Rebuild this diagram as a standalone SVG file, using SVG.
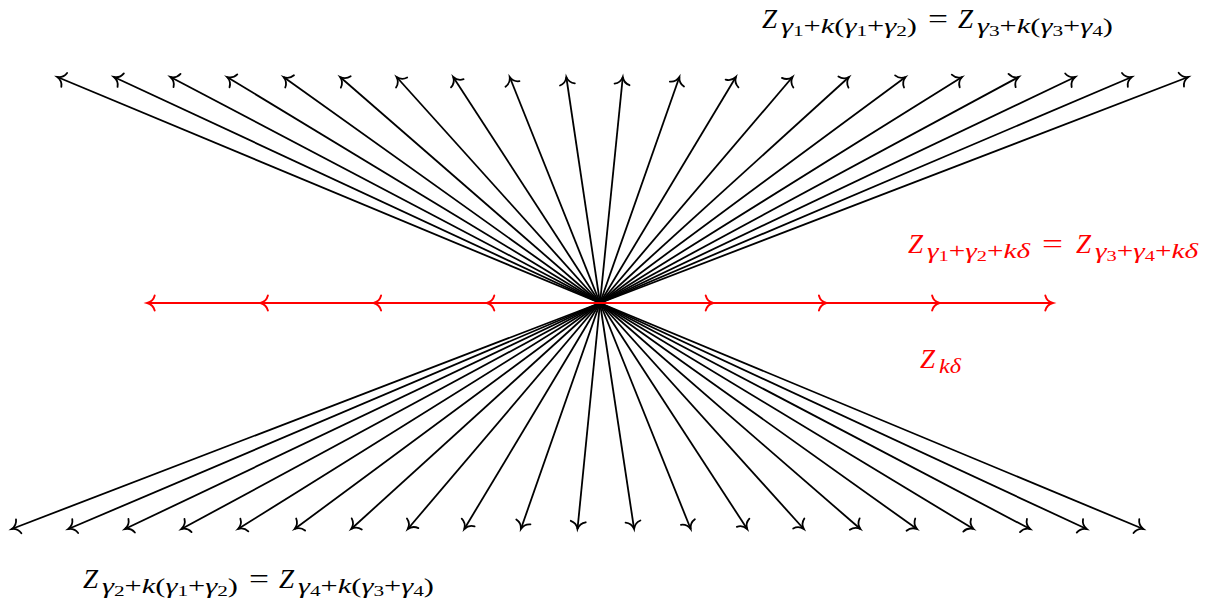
<svg xmlns="http://www.w3.org/2000/svg" width="1211" height="606" viewBox="0 0 1211 606">
<style>
.ray{stroke:#000;stroke-width:1.8;fill:none;marker-end:url(#ahk)}
.red{stroke:#ff0000;stroke-width:1.9;fill:none;marker-end:url(#ahr)}
.lbl{font-family:"Liberation Serif","DejaVu Serif",serif;font-size:27px}
.sub{font-family:"Liberation Serif","DejaVu Serif",serif;font-size:20px}
.i{font-style:italic}
.ss{font-size:14px}
.rd{fill:#ff0000}
</style>
<defs>
<marker id="ahk" markerUnits="userSpaceOnUse" viewBox="-10 -10 20 20" markerWidth="20" markerHeight="20" refX="0" refY="0" orient="auto" overflow="visible">
<path d="M-7.5,-7.5 C-6.5,-3.5 -3,-0.8 0,0 C-3,0.8 -6.5,3.5 -7.5,7.5" fill="none" stroke="#000" stroke-width="1.8" stroke-linecap="round"/>
</marker>
<marker id="ahr" markerUnits="userSpaceOnUse" viewBox="-10 -10 20 20" markerWidth="20" markerHeight="20" refX="0" refY="0" orient="auto" overflow="visible">
<path d="M-7.5,-7.5 C-6.5,-3.5 -3,-0.8 0,0 C-3,0.8 -6.5,3.5 -7.5,7.5" fill="none" stroke="#ff0000" stroke-width="1.9" stroke-linecap="round"/>
</marker>
</defs>
<g id="connectors">
<g id="top-rays">
<line class="ray" x1="600" y1="303" x2="57.3" y2="77"/>
<line class="ray" x1="600" y1="303" x2="113.9" y2="77"/>
<line class="ray" x1="600" y1="303" x2="170.4" y2="77"/>
<line class="ray" x1="600" y1="303" x2="227" y2="77"/>
<line class="ray" x1="600" y1="303" x2="283.5" y2="77"/>
<line class="ray" x1="600" y1="303" x2="340.1" y2="77"/>
<line class="ray" x1="600" y1="303" x2="396.6" y2="77"/>
<line class="ray" x1="600" y1="303" x2="453.2" y2="77"/>
<line class="ray" x1="600" y1="303" x2="509.7" y2="77"/>
<line class="ray" x1="600" y1="303" x2="566.3" y2="77"/>
<line class="ray" x1="600" y1="303" x2="622.8" y2="77"/>
<line class="ray" x1="600" y1="303" x2="679.4" y2="77"/>
<line class="ray" x1="600" y1="303" x2="735.9" y2="77"/>
<line class="ray" x1="600" y1="303" x2="792.5" y2="77"/>
<line class="ray" x1="600" y1="303" x2="849" y2="77"/>
<line class="ray" x1="600" y1="303" x2="905.6" y2="77"/>
<line class="ray" x1="600" y1="303" x2="962.1" y2="77"/>
<line class="ray" x1="600" y1="303" x2="1018.7" y2="77"/>
<line class="ray" x1="600" y1="303" x2="1075.2" y2="77"/>
<line class="ray" x1="600" y1="303" x2="1131.8" y2="77"/>
<line class="ray" x1="600" y1="303" x2="1188.3" y2="77"/>
</g>
<g id="bottom-rays">
<line class="ray" x1="600" y1="303" x2="11.7" y2="529"/>
<line class="ray" x1="600" y1="303" x2="68.3" y2="529"/>
<line class="ray" x1="600" y1="303" x2="124.9" y2="529"/>
<line class="ray" x1="600" y1="303" x2="181.4" y2="529"/>
<line class="ray" x1="600" y1="303" x2="238" y2="529"/>
<line class="ray" x1="600" y1="303" x2="294.6" y2="529"/>
<line class="ray" x1="600" y1="303" x2="351.2" y2="529"/>
<line class="ray" x1="600" y1="303" x2="407.8" y2="529"/>
<line class="ray" x1="600" y1="303" x2="464.3" y2="529"/>
<line class="ray" x1="600" y1="303" x2="520.9" y2="529"/>
<line class="ray" x1="600" y1="303" x2="577.5" y2="529"/>
<line class="ray" x1="600" y1="303" x2="634.1" y2="529"/>
<line class="ray" x1="600" y1="303" x2="690.7" y2="529"/>
<line class="ray" x1="600" y1="303" x2="747.2" y2="529"/>
<line class="ray" x1="600" y1="303" x2="803.8" y2="529"/>
<line class="ray" x1="600" y1="303" x2="860.4" y2="529"/>
<line class="ray" x1="600" y1="303" x2="917" y2="529"/>
<line class="ray" x1="600" y1="303" x2="973.6" y2="529"/>
<line class="ray" x1="600" y1="303" x2="1030.1" y2="529"/>
<line class="ray" x1="600" y1="303" x2="1086.7" y2="529"/>
<line class="ray" x1="600" y1="303" x2="1143.3" y2="529"/>
</g>
<g id="red-rays">
<line class="red" x1="600" y1="303" x2="486.8" y2="303"/>
<line class="red" x1="600" y1="303" x2="373.6" y2="303"/>
<line class="red" x1="600" y1="303" x2="260.4" y2="303"/>
<line class="red" x1="600" y1="303" x2="147.2" y2="303"/>
<line class="red" x1="600" y1="303" x2="713.2" y2="303"/>
<line class="red" x1="600" y1="303" x2="826.4" y2="303"/>
<line class="red" x1="600" y1="303" x2="939.6" y2="303"/>
<line class="red" x1="600" y1="303" x2="1052.8" y2="303"/>
</g>
</g>
<g id="label-top">
<text class="lbl i" x="762" y="28">Z</text>
<text class="sub" x="781" y="33" textLength="136" lengthAdjust="spacingAndGlyphs"><tspan class="i">γ</tspan><tspan class="ss" dy="3">1</tspan><tspan dy="-3">+</tspan><tspan class="i">k</tspan>(<tspan class="i">γ</tspan><tspan class="ss" dy="3">1</tspan><tspan dy="-3">+</tspan><tspan class="i">γ</tspan><tspan class="ss" dy="3">2</tspan><tspan dy="-3">)</tspan></text>
<text class="lbl" x="928" y="28" textLength="20" lengthAdjust="spacingAndGlyphs">=</text>
<text class="lbl i" x="958" y="28">Z</text>
<text class="sub" x="977" y="33" textLength="136" lengthAdjust="spacingAndGlyphs"><tspan class="i">γ</tspan><tspan class="ss" dy="3">3</tspan><tspan dy="-3">+</tspan><tspan class="i">k</tspan>(<tspan class="i">γ</tspan><tspan class="ss" dy="3">3</tspan><tspan dy="-3">+</tspan><tspan class="i">γ</tspan><tspan class="ss" dy="3">4</tspan><tspan dy="-3">)</tspan></text>
</g>
<g id="label-bottom">
<text class="lbl i" x="83" y="588">Z</text>
<text class="sub" x="102" y="593" textLength="136" lengthAdjust="spacingAndGlyphs"><tspan class="i">γ</tspan><tspan class="ss" dy="3">2</tspan><tspan dy="-3">+</tspan><tspan class="i">k</tspan>(<tspan class="i">γ</tspan><tspan class="ss" dy="3">1</tspan><tspan dy="-3">+</tspan><tspan class="i">γ</tspan><tspan class="ss" dy="3">2</tspan><tspan dy="-3">)</tspan></text>
<text class="lbl" x="249" y="588" textLength="20" lengthAdjust="spacingAndGlyphs">=</text>
<text class="lbl i" x="279" y="588">Z</text>
<text class="sub" x="298" y="593" textLength="136" lengthAdjust="spacingAndGlyphs"><tspan class="i">γ</tspan><tspan class="ss" dy="3">4</tspan><tspan dy="-3">+</tspan><tspan class="i">k</tspan>(<tspan class="i">γ</tspan><tspan class="ss" dy="3">3</tspan><tspan dy="-3">+</tspan><tspan class="i">γ</tspan><tspan class="ss" dy="3">4</tspan><tspan dy="-3">)</tspan></text>
</g>
<g id="label-red-top">
<text class="lbl i rd" x="908" y="253">Z</text>
<text class="sub rd" x="927" y="258" textLength="103" lengthAdjust="spacingAndGlyphs"><tspan class="i">γ</tspan><tspan class="ss" dy="3">1</tspan><tspan dy="-3">+</tspan><tspan class="i">γ</tspan><tspan class="ss" dy="3">2</tspan><tspan dy="-3">+</tspan><tspan class="i">kδ</tspan></text>
<text class="lbl rd" x="1042" y="253" textLength="21" lengthAdjust="spacingAndGlyphs">=</text>
<text class="lbl i rd" x="1076" y="253">Z</text>
<text class="sub rd" x="1095" y="258" textLength="103" lengthAdjust="spacingAndGlyphs"><tspan class="i">γ</tspan><tspan class="ss" dy="3">3</tspan><tspan dy="-3">+</tspan><tspan class="i">γ</tspan><tspan class="ss" dy="3">4</tspan><tspan dy="-3">+</tspan><tspan class="i">kδ</tspan></text>
</g>
<g id="label-red-bottom">
<text class="lbl i rd" x="920" y="368">Z</text>
<text class="sub i rd" x="939" y="373" textLength="22" lengthAdjust="spacingAndGlyphs">kδ</text>
</g>
</svg>
